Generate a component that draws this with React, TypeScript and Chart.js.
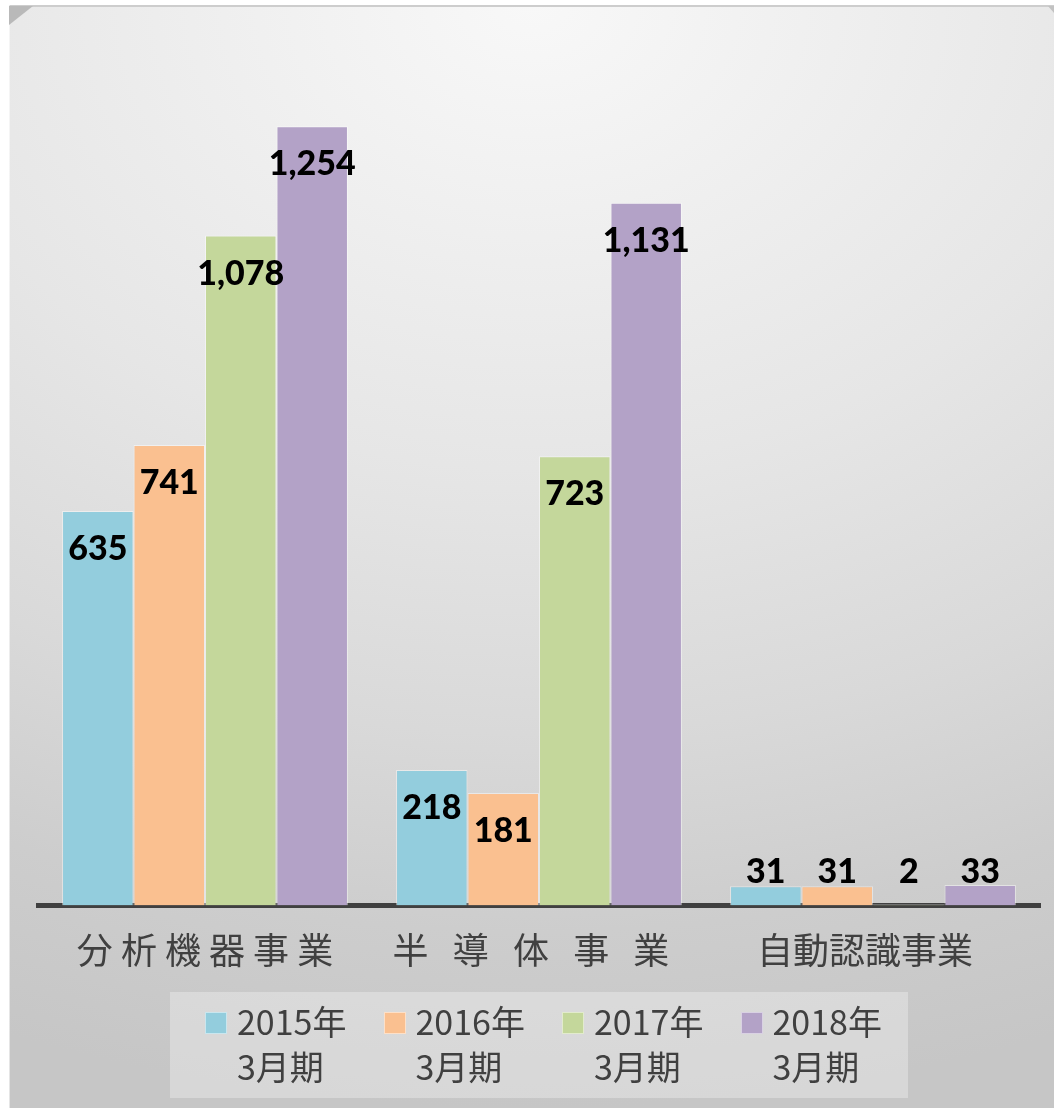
import React, { useEffect, useRef } from "react";
import { Chart, registerables } from "chart.js";

Chart.register(...registerables);

// ---- data ----
const categories = ["分 析 機 器 事 業", "半   導   体   事   業  ", "自動認識事業  "];
const seriesLabels = ["2015年3月期", "2016年3月期", "2017年3月期", "2018年3月期"];
const legendLines = [
  ["2015年", "3月期"],
  ["2016年", "3月期"],
  ["2017年", "3月期"],
  ["2018年", "3月期"],
];
const values2015 = [635, 218, 31];
const values2016 = [741, 181, 31];
const values2017 = [1078, 723, 2];
const values2018 = [1254, 1131, 33];
const seriesColors = ["#93CDDD", "#FAC090", "#C4D79B", "#B3A2C7"];
const yMax = 1400;

const W = 1045;
const H = 1103;

const valueLabelPlugin = {
  id: "valueLabels",
  afterDatasetsDraw(chart: any) {
    const ctx = chart.ctx;
    ctx.save();
    ctx.font = "900 34px Lato, 'Open Sans', sans-serif";
    ctx.fillStyle = "#000000";
    ctx.textAlign = "center";
    ctx.textBaseline = "alphabetic";
    chart.data.datasets.forEach((ds: any, i: number) => {
      const meta = chart.getDatasetMeta(i);
      meta.data.forEach((bar: any, j: number) => {
        const v = ds.data[j];
        const { x, y, base } = bar.getProps(["x", "y", "base"], true);
        const h = base - y;
        const ty = h > 70 ? y + 49 : base - 22.5;
        ctx.fillText(Number(v).toLocaleString("en-US"), x, ty);
      });
    });
    ctx.restore();
  },
};

export default function App() {
  const canvasRef = useRef<HTMLCanvasElement | null>(null);

  useEffect(() => {
    let chart: Chart | null = null;
    let cancelled = false;
    const build = () => {
      if (cancelled || !canvasRef.current) return;
      const allValues = [values2015, values2016, values2017, values2018];
      chart = new Chart(canvasRef.current, {
        type: "bar",
        data: {
          labels: categories,
          datasets: allValues.map((vals, i) => ({
            label: seriesLabels[i],
            data: vals,
            backgroundColor: seriesColors[i],
            borderColor: "rgba(255,255,255,0.45)",
            borderWidth: 1,
            barPercentage: 1,
            categoryPercentage: 0.856,
          })),
        },
        options: {
          animation: false,
          responsive: false,
          devicePixelRatio: 1,
          layout: { padding: { left: 29, right: 14, top: 30.5, bottom: 102.5 } },
          plugins: {
            legend: { display: false },
            tooltip: { enabled: false },
            title: { display: false },
          },
          scales: {
            x: {
              z: 1,
              grid: { display: false, drawTicks: false },
              border: { display: true, color: "#404040", width: 5 },
              ticks: {
                color: "#404040",
                font: { family: "'Noto Sans CJK JP', sans-serif", size: 36 },
                padding: 23,
                maxRotation: 0,
                autoSkip: false,
              },
              afterFit: (s: any) => {
                s.height = 100;
              },
            },
            y: { display: false, min: 0, max: yMax },
          },
        },
        plugins: [valueLabelPlugin],
      } as any);
    };
    const fonts = (document as any).fonts;
    if (fonts && fonts.load) {
      Promise.all([
        fonts.load("900 34px Lato"),
        fonts.load("36px 'Noto Sans CJK JP'"),
      ])
        .catch(() => null)
        .then(build);
    } else {
      build();
    }
    return () => {
      cancelled = true;
      if (chart) chart.destroy();
    };
  }, []);

  const legendLeft = [196, 374.5, 553, 731.5];

  return (
    <div
      style={{
        position: "absolute",
        left: 9,
        top: 5,
        width: W,
        height: H,
        overflow: "hidden",
        background:
          "radial-gradient(ellipse 140% 100% at 50% 0%, #f8f8f8 0%, #e6e6e6 42%, #d9d9d9 66%, #cdcdcd 84%, #c6c6c6 100%)",
      }}
    >
      <canvas
        ref={canvasRef}
        width={W}
        height={H}
        style={{ position: "absolute", left: 0, top: 0, width: W, height: H }}
      />
      {/* top edge line */}
      <div style={{ position: "absolute", left: 0, top: 0, width: W, height: 2, background: "#cdcdcd" }} />
      {/* left edge */}
      <div style={{ position: "absolute", left: 0, top: 0, width: 1, height: H, background: "rgba(255,255,255,0.55)" }} />
      {/* corner fold */}
      <div
        style={{
          position: "absolute",
          left: 0,
          top: 1,
          width: 24,
          height: 19,
          background: "#b9b9b9",
          clipPath: "polygon(0 0, 100% 0, 0 100%)",
        }}
      />
      <div
        style={{
          position: "absolute",
          right: 0,
          top: 1,
          width: 6,
          height: 7,
          background: "#c2c2c2",
          clipPath: "polygon(0 0, 100% 0, 100% 100%)",
        }}
      />
      {/* legend */}
      <div
        style={{
          position: "absolute",
          left: 161,
          top: 987,
          width: 738,
          height: 106,
          background: "rgba(255,255,255,0.3)",
        }}
      />
      {legendLines.map((lines, i) => (
        <div key={i}>
          <div
            style={{
              position: "absolute",
              left: legendLeft[i],
              top: 1007,
              width: 20,
              height: 20,
              background: seriesColors[i],
              border: "1px solid rgba(255,255,255,0.5)",
            }}
          />
          <div
            style={{
              position: "absolute",
              left: legendLeft[i] + 32,
              top: 993,
              fontFamily: "'Noto Sans CJK JP', sans-serif",
              fontSize: 34,
              lineHeight: "45px",
              color: "#404040",
              whiteSpace: "nowrap",
            }}
          >
            {lines.map((t, k) => (
              <div key={k}>{t}</div>
            ))}
          </div>
        </div>
      ))}
    </div>
  );
}
